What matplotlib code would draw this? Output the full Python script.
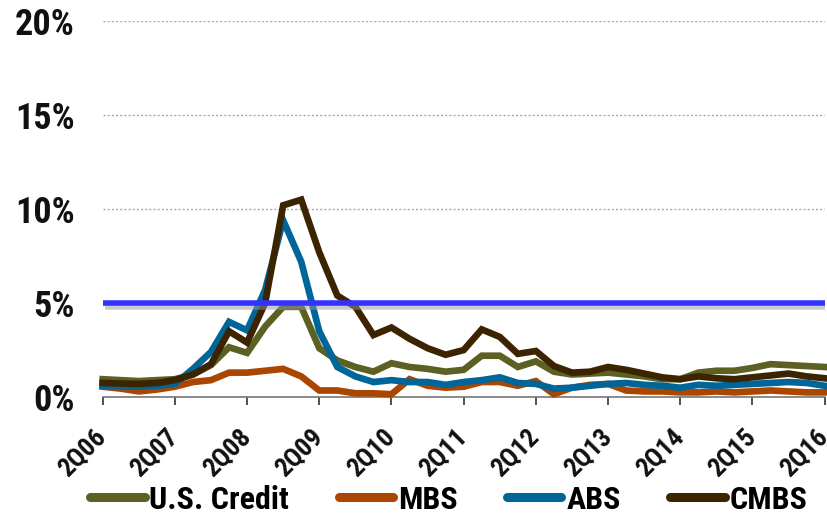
import matplotlib.pyplot as plt
import matplotlib.patheffects as pe
import matplotlib.font_manager as fm
import numpy as np

# pick the first narrow family that ships a bold face
narrow_candidates = ['Liberation Sans Narrow', 'Nimbus Sans Narrow', 'Arial Narrow',
                     'Roboto Condensed', 'PT Sans Narrow', 'Archivo Narrow',
                     'Asap Condensed', 'Open Sans Condensed', 'Saira SemiCondensed']
bold_faces = {f.name for f in fm.fontManager.ttflist
              if isinstance(f.weight, int) and f.weight >= 700 or f.weight == 'bold'}
narrow = next((n for n in narrow_candidates if n in bold_faces), 'Liberation Sans')
plt.rcParams['font.family'] = [narrow, 'Liberation Sans', 'DejaVu Sans']

# quarterly default rates (%), 2Q06 .. 2Q16
us_credit = [0.95, 0.9, 0.85, 0.9, 0.95, 1.2, 1.7, 2.65, 2.35, 3.75, 4.8, 4.8, 2.6, 1.95, 1.6,
             1.35, 1.8, 1.6, 1.5, 1.35, 1.45, 2.2, 2.2, 1.6, 1.9, 1.35, 1.2, 1.25, 1.3, 1.2,
             1.1, 0.95, 0.95, 1.3, 1.4, 1.4, 1.55, 1.75, 1.7, 1.65, 1.6]
mbs = [0.55, 0.45, 0.3, 0.4, 0.55, 0.8, 0.9, 1.3, 1.3, 1.4, 1.5, 1.1, 0.35, 0.35, 0.2,
       0.2, 0.15, 0.95, 0.6, 0.5, 0.55, 0.8, 0.8, 0.6, 0.85, 0.15, 0.5, 0.65, 0.7, 0.35,
       0.3, 0.3, 0.25, 0.25, 0.3, 0.25, 0.3, 0.35, 0.3, 0.25, 0.25]
abs_ = [0.6, 0.55, 0.55, 0.6, 0.7, 1.5, 2.4, 4.0, 3.55, 5.7, 9.4, 7.2, 3.5, 1.6, 1.1,
        0.8, 0.9, 0.8, 0.8, 0.65, 0.8, 0.9, 1.05, 0.75, 0.7, 0.45, 0.5, 0.6, 0.7, 0.75,
        0.65, 0.6, 0.5, 0.65, 0.6, 0.65, 0.7, 0.75, 0.8, 0.75, 0.6]
cmbs = [0.75, 0.72, 0.7, 0.75, 0.9, 1.2, 1.75, 3.5, 2.9, 5.0, 10.2, 10.5, 7.7, 5.4, 4.8,
        3.3, 3.7, 3.1, 2.6, 2.25, 2.5, 3.6, 3.2, 2.3, 2.45, 1.65, 1.3, 1.35, 1.6, 1.45,
        1.25, 1.05, 0.95, 1.1, 1.0, 0.95, 1.05, 1.15, 1.25, 1.1, 1.0]
threshold = 5.0

tick_labels = ['2Q06', '2Q07', '2Q08', '2Q09', '2Q10', '2Q11',
               '2Q12', '2Q13', '2Q14', '2Q15', '2Q16']
y_ticks = [0, 5, 10, 15, 20]

series = [('U.S. Credit', us_credit, '#5C6023'),
          ('MBS', mbs, '#AA4600'),
          ('ABS', abs_, '#006699'),
          ('CMBS', cmbs, '#3C2400')]

fig = plt.figure(figsize=(8.28, 5.15), dpi=100)
ax = fig.add_axes([0.124, 0.229, 0.872, 0.730])

x = np.arange(len(cmbs))
for label, vals, col in series:
    ax.plot(x, vals, color=col, lw=4.8, label=label, solid_joinstyle='miter',
            clip_on=False, zorder=3)

ax.plot([0, len(cmbs) - 1], [threshold, threshold], color='#3333FF', lw=4.0,
        solid_capstyle='butt', zorder=4,
        path_effects=[pe.SimpleLineShadow(offset=(1.5, -2.5), shadow_color='#999999', alpha=0.5),
                      pe.Normal()])

ax.set_xlim(0, len(cmbs) - 1)
ax.set_ylim(0, 20)
ax.set_yticks(y_ticks)
ax.set_yticklabels([f'{v}%' for v in y_ticks], fontsize=26, fontweight='bold')
ax.grid(axis='y', color='#AAAAAA', linestyle=(0, (1.5, 1.5)), linewidth=1.0)
ax.set_axisbelow(True)

ax.set_xticks(np.arange(0, len(cmbs), 4))
ax.set_xticklabels(tick_labels, fontsize=19, fontweight='bold', rotation=45,
                   ha='right', va='center', rotation_mode='anchor')

ax.tick_params(axis='y', length=0, pad=20, colors='#111111')
ax.tick_params(axis='x', length=6, width=1.2, pad=20, color='#333333', direction='out',
               colors='#111111')
for side in ['left', 'right', 'top']:
    ax.spines[side].set_visible(False)
ax.spines['bottom'].set_color('#777777')
ax.spines['bottom'].set_linewidth(1.2)

leg = fig.legend(loc='lower center', bbox_to_anchor=(0.542, -0.055), ncol=4, frameon=False,
                 prop={'weight': 'bold', 'size': 23}, handlelength=1.7, handletextpad=0.15,
                 columnspacing=1.55)
for h in leg.get_lines():
    h.set_linewidth(6.5)
    h.set_solid_capstyle('round')

fig.savefig('out.png', dpi=100)
